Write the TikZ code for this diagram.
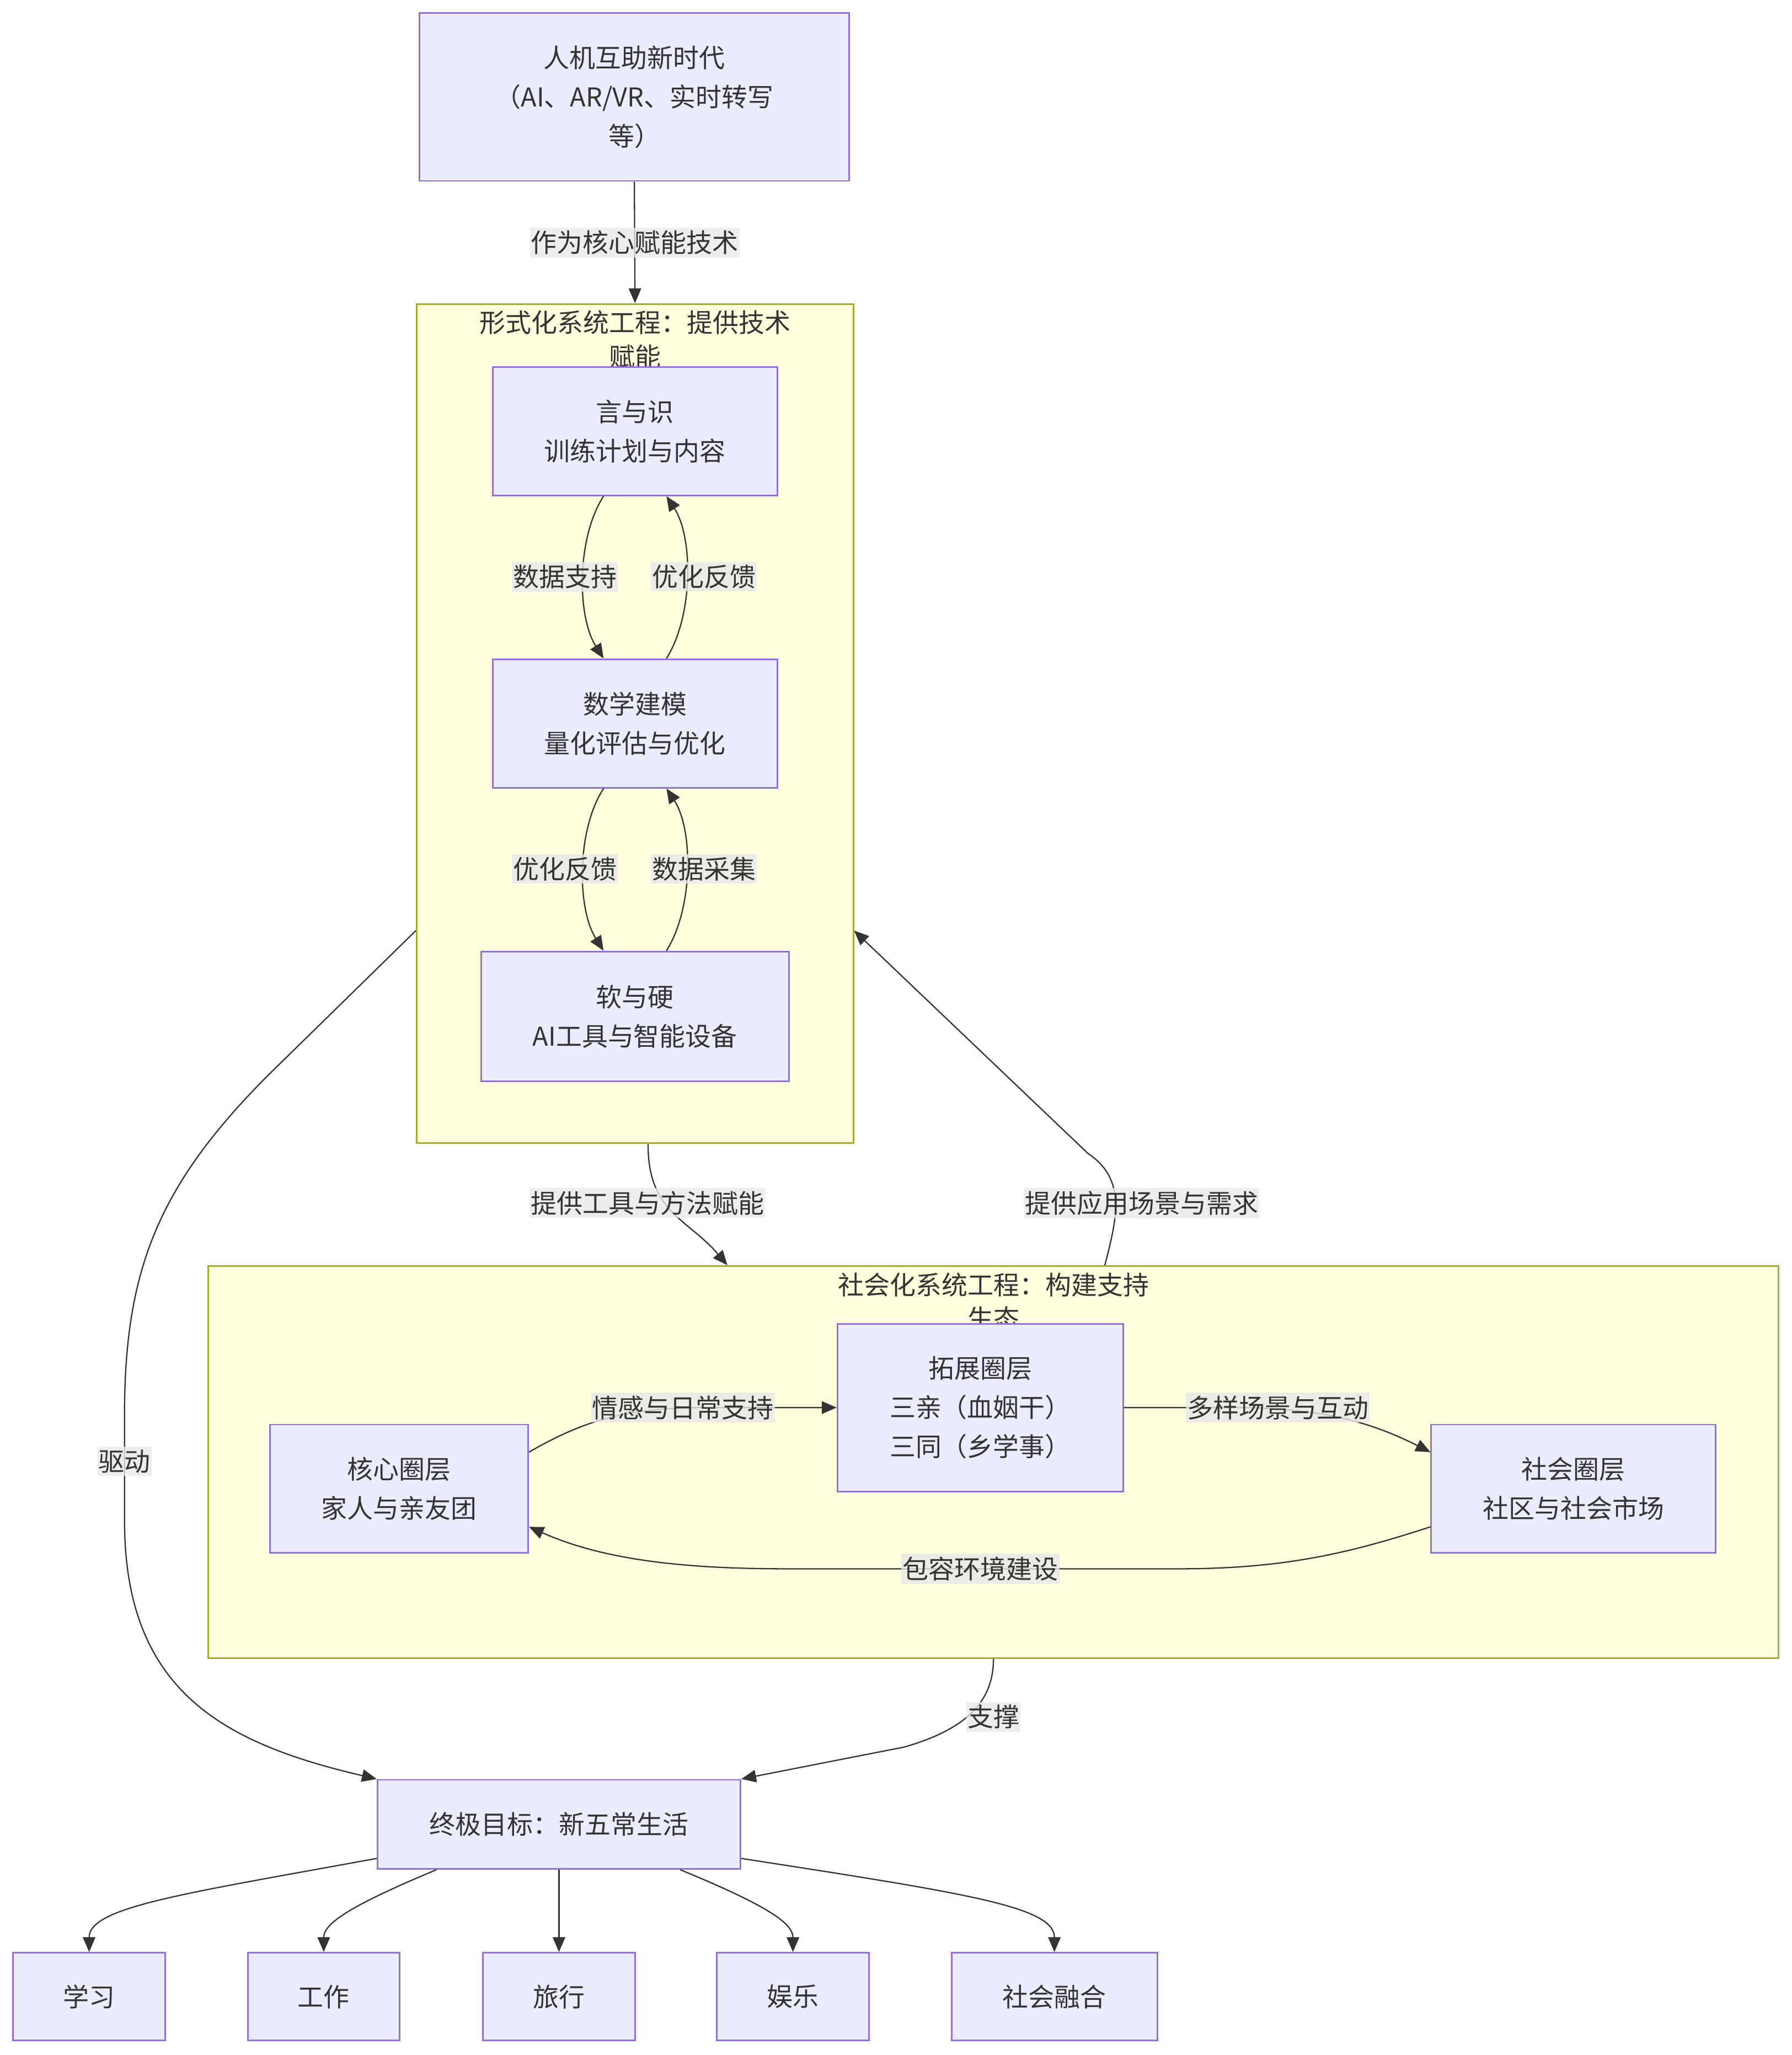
\documentclass[tikz,border=0pt]{standalone}
\usepackage{fontspec}
\setmainfont{Noto Sans CJK SC}
\usepackage{tikz}
\usetikzlibrary{arrows.meta,calc}
\definecolor{nodefill}{HTML}{ECECFF}
\definecolor{nodeborder}{HTML}{9370DB}
\definecolor{clusterfill}{HTML}{FFFFDE}
\definecolor{clusterborder}{HTML}{AAAA33}
\definecolor{linecol}{HTML}{333333}
\definecolor{lblbg}{HTML}{E8E8E8}
\definecolor{txt}{HTML}{333333}

\begin{document}
\begin{tikzpicture}[x=0.04cm,y=-0.04cm,
  every node/.style={font=\fontsize{22.5pt}{34pt}\selectfont, text=txt},
  box/.style={draw=nodeborder, fill=nodefill, line width=1.4pt, align=center, inner sep=0pt},
  cluster/.style={draw=clusterborder, fill=clusterfill, line width=1.4pt, inner sep=0pt},
  ctitle/.style={align=center, font=\fontsize{22.5pt}{29.5pt}\selectfont},
  lbl/.style={fill=lblbg, fill opacity=0.8, text opacity=1, inner xsep=1pt, inner ysep=2.5pt},
  edge/.style={draw=linecol, line width=1.1pt, -{Triangle[length=0.45cm,width=0.38cm]}}]

\useasboundingbox (0,0) rectangle (1367,1568);

% subgraphs
\node[cluster, minimum width=13.32cm, minimum height=25.6cm] (F) at (484.5,552) {};
\node[ctitle] (Ftitle) at (484.5,259) {形式化系统工程：提供技术\\赋能};
\node[cluster, minimum width=47.92cm, minimum height=11.96cm] (S) at (758,1115.5) {};
\node[ctitle] (Stitle) at (758,993) {社会化系统工程：构建支持\\生态};

\node[box, minimum width=13.12cm, minimum height=5.12cm] (T) at (484,74) {人机互助新时代\\（AI、AR/VR、实时转写\\等）};
\node[box, minimum width=8.68cm, minimum height=3.92cm] (A) at (484.5,329) {言与识\\训练计划与内容};
\node[box, minimum width=8.68cm, minimum height=3.92cm] (B) at (484.5,552) {数学建模\\量化评估与优化};
\node[box, minimum width=9.4cm, minimum height=3.96cm] (C) at (484.5,775.5) {软与硬\\AI工具与智能设备};

\node[box, minimum width=7.88cm, minimum height=3.92cm] (K) at (304.5,1136) {核心圈层\\家人与亲友团};
\node[box, minimum width=8.72cm, minimum height=5.12cm] (E) at (748,1074) {拓展圈层\\三亲（血姻干）\\三同（乡学事）};
\node[box, minimum width=8.68cm, minimum height=3.92cm] (Q) at (1200.5,1136) {社会圈层\\社区与社会市场};

\node[box, minimum width=11.08cm, minimum height=2.72cm] (G) at (426.5,1392) {终极目标：新五常生活};
\node[box, minimum width=4.64cm, minimum height=2.68cm] (L1) at (68,1523.5) {学习};
\node[box, minimum width=4.64cm, minimum height=2.68cm] (L2) at (247,1523.5) {工作};
\node[box, minimum width=4.64cm, minimum height=2.68cm] (L3) at (426.5,1523.5) {旅行};
\node[box, minimum width=4.64cm, minimum height=2.68cm] (L4) at (605,1523.5) {娱乐};
\node[box, minimum width=6.28cm, minimum height=2.68cm] (L5) at (804.5,1523.5) {社会融合};

\draw[edge] (T.south) -- (F.north) node[lbl, midway] {作为核心赋能技术};

\draw[edge] ($(A.south)+(-24,0)$) .. controls (440,410) and (440,470) .. ($(B.north)+(-24,0)$) node[lbl] at (431,440) {数据支持};
\draw[edge] ($(B.north)+(24,0)$) .. controls (529,470) and (529,410) .. ($(A.south)+(24,0)$) node[lbl] at (537,440) {优化反馈};
\draw[edge] ($(B.south)+(-24,0)$) .. controls (440,633) and (440,693) .. ($(C.north)+(-24,0)$) node[lbl] at (431,663) {优化反馈};
\draw[edge] ($(C.north)+(24,0)$) .. controls (529,693) and (529,633) .. ($(B.south)+(24,0)$) node[lbl] at (537,663) {数据采集};

\draw[edge] ($(F.south)+(10,0)$) .. controls (494,925) and (525,930) .. ($(S.north)+(-203,0)$) node[lbl] at (494,918) {提供工具与方法赋能};
\draw[edge] ($(S.north)+(85,0)$) .. controls (852,930) and (860,900) .. (830,880) -- ($(F.east)+(0,158)$) node[lbl] at (871,918) {提供应用场景与需求};

\draw[edge] ($(K.east)+(0,-28)$) .. controls (455,1078) and (490,1074) .. (545,1074) -- (E.west) node[lbl] at (521,1074) {情感与日常支持};
\draw[edge] (E.east) -- (940,1074) .. controls (1000,1074) and (1040,1082) .. ($(Q.west)+(0,-28)$) node[lbl] at (975,1074) {多样场景与互动};
\draw[edge] ($(Q.west)+(0,29)$) .. controls (1030,1185) and (980,1197) .. (900,1197) -- (600,1197) .. controls (520,1197) and (460,1190) .. ($(K.east)+(0,29)$) node[lbl] at (748,1197) {包容环境建设};

\draw[edge] ($(F.west)+(0,158)$) -- (205,820) .. controls (120,905) and (95,970) .. (95,1080) -- (95,1160) .. controls (95,1290) and (170,1330) .. (G.north west) node[lbl] at (95,1115) {驱动};
\draw[edge] (S.south) .. controls (758,1300) and (735,1320) .. (690,1333) -- (G.north east) node[lbl] at (758,1310) {支撑};

\draw[edge] ($(G.west)+(0,26)$) .. controls (140,1445) and (68,1455) .. (L1.north);
\draw[edge] ($(G.south)+(-93.5,0)$) .. controls (265,1455) and (247,1468) .. (L2.north);
\draw[edge] (G.south) -- (L3.north);
\draw[edge] ($(G.south)+(92.5,0)$) .. controls (588,1455) and (605,1468) .. (L4.north);
\draw[edge] ($(G.east)+(0,26)$) .. controls (740,1445) and (804.5,1455) .. (L5.north);
\end{tikzpicture}
\end{document}
